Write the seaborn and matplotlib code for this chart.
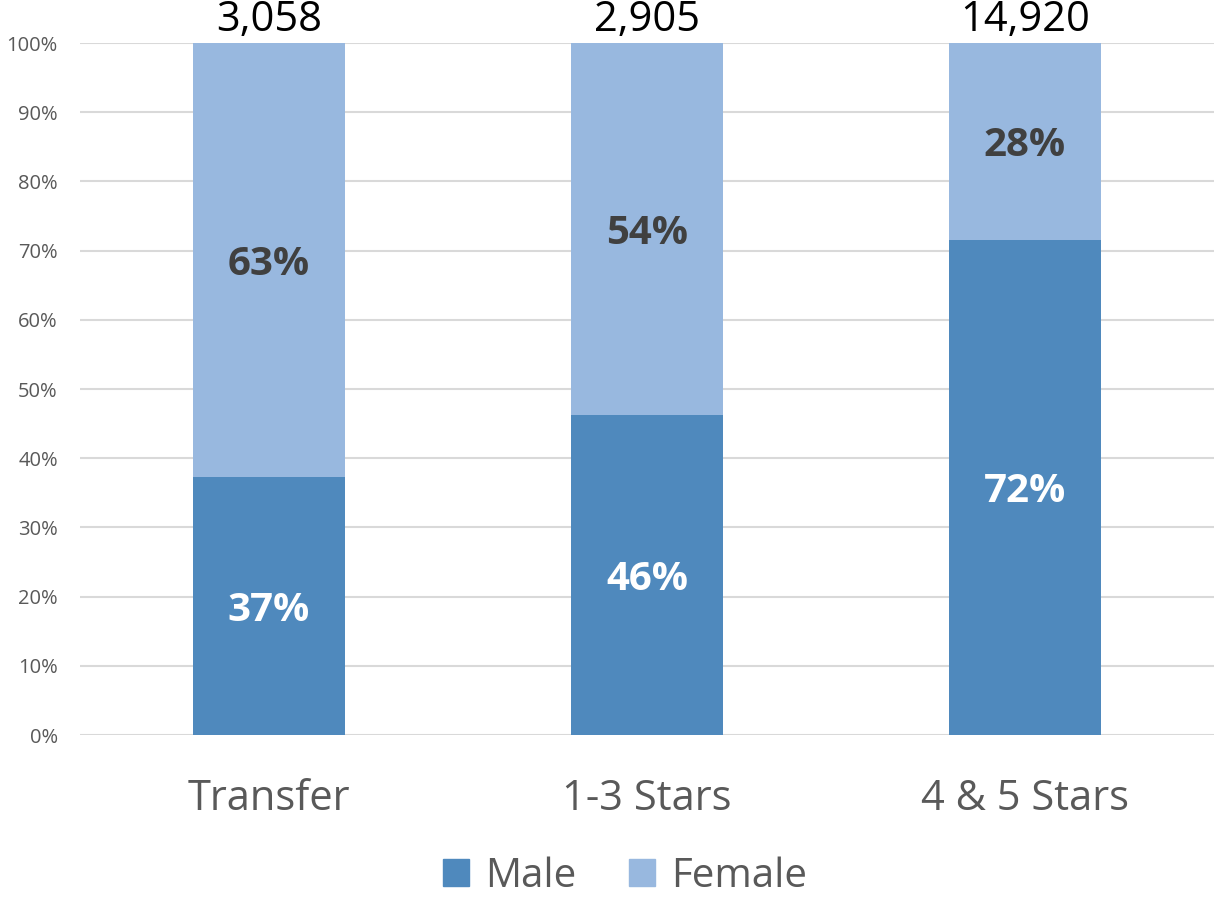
import matplotlib
matplotlib.use("Agg")
import matplotlib.pyplot as plt
import seaborn as sns
import pandas as pd
from matplotlib.patches import Patch

categories = ["Transfer", "1-3 Stars", "4 & 5 Stars"]
male_pct = [37.3, 46.2, 71.6]
female_pct = [62.7, 53.8, 28.4]
totals = ["3,058", "2,905", "14,920"]

male_color = "#4F89BD"
female_color = "#98B8DF"

sns.set_theme(style="white")
plt.rcParams["font.family"] = ["Open Sans", "DejaVu Sans"]

df = pd.DataFrame({"category": categories, "male": male_pct, "female": female_pct})
df["stack"] = df["male"] + df["female"]

fig = plt.figure(figsize=(12.14, 9), dpi=100)
ax = fig.add_axes([0.0659, 0.1833, 0.9341, 0.7689])

# female drawn as full stack, male drawn over it
sns.barplot(data=df, x="category", y="stack", color=female_color, width=0.4,
            saturation=1, linewidth=0, ax=ax, zorder=3)
sns.barplot(data=df, x="category", y="male", color=male_color, width=0.4,
            saturation=1, linewidth=0, ax=ax, zorder=4)

ax.set_xlim(-0.5, 2.5)
ax.set_ylim(0, 100)
ax.set_yticks(range(0, 101, 10))
ax.set_yticklabels([f"{v}%" for v in range(0, 101, 10)])
ax.yaxis.grid(True, color="#D9D9D9", linewidth=1.5, zorder=0)
ax.set_axisbelow(True)
for s in ax.spines.values():
    s.set_visible(False)
ax.tick_params(axis="y", length=0, pad=16, labelsize=14.5, labelcolor="#595959")
ax.tick_params(axis="x", length=0, pad=31, labelsize=30, labelcolor="#595959")
ax.set_xlabel("")
ax.set_ylabel("")

for i in range(len(categories)):
    m = df["male"][i]
    f = df["female"][i]
    ax.text(i, m / 2 - 0.6, f"{round(m)}%", ha="center", va="center", fontsize=29,
            fontweight="bold", color="white", zorder=5)
    ax.text(i, m + f / 2 - 0.6, f"{round(f)}%", ha="center", va="center", fontsize=29,
            fontweight="bold", color="#404040", zorder=5)
    ax.text(i, 100.3, totals[i], ha="center", va="bottom", fontsize=30,
            color="black", zorder=5, clip_on=False)

handles = [Patch(color=male_color, label="Male"), Patch(color=female_color, label="Female")]
fig.legend(handles=handles, loc="center", bbox_to_anchor=(0.515, 0.026), ncol=2,
           frameon=False, fontsize=29, handlelength=0.65, handleheight=0.65,
           handletextpad=0.4, columnspacing=1.3, labelcolor="#595959",
           borderpad=0.1)

fig.savefig("out.png", dpi=100)
